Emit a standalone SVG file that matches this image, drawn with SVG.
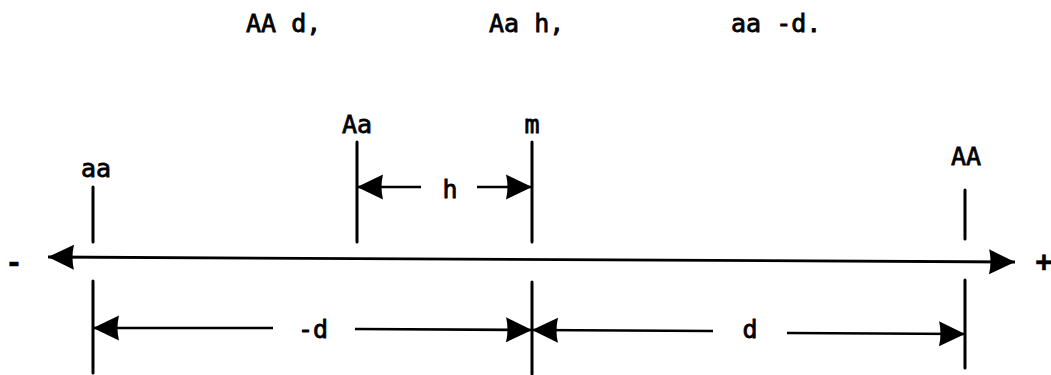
<svg xmlns="http://www.w3.org/2000/svg" width="1051" height="375" viewBox="0 0 1051 375">
<defs>
<style>
text{font-family:"DejaVu Sans Mono","Liberation Mono",monospace;font-size:25px;fill:#000;stroke:#000;stroke-width:0.8}
.m{text-anchor:middle}
.sign{font-weight:bold;font-size:28px;stroke-width:0.5}
.tick{stroke:#000;stroke-width:3;fill:none;stroke-linecap:round}
.dim{stroke:#000;stroke-width:2.6;fill:none;marker-end:url(#ah)}
.axis{stroke:#000;stroke-width:2.8;fill:none;marker-start:url(#ah);marker-end:url(#ah)}
</style>
<marker id="ah" markerUnits="userSpaceOnUse" markerWidth="28" markerHeight="26" refX="26" refY="13" orient="auto-start-reverse">
<path d="M0,0.5 L26,13 L0,25.5 Q3,13 0,0.5 z" fill="#000"/>
</marker>
</defs>
<rect width="1051" height="375" fill="#fff"/>
<g id="title">
<text x="246" y="32">AA d,</text>
<text x="489" y="32">Aa h,</text>
<text x="731" y="32">aa -d.</text>
</g>
<g id="minus"><text class="m sign" x="14" y="272">-</text></g>
<g id="plus"><text class="m sign" x="1044" y="271">+</text></g>
<g id="node-aa">
<text x="81" y="177">aa</text>
<line class="tick" x1="93" y1="187" x2="93" y2="242"/>
<line class="tick" x1="93" y1="281" x2="93" y2="373"/>
</g>
<g id="node-Aa">
<text x="342" y="133">Aa</text>
<line class="tick" x1="357" y1="142" x2="357" y2="242"/>
</g>
<g id="node-m">
<text class="m" x="532" y="133">m</text>
<line class="tick" x1="532" y1="142" x2="532" y2="242"/>
<line class="tick" x1="532" y1="282" x2="532" y2="374"/>
</g>
<g id="node-AA">
<text class="m" x="966" y="165">AA</text>
<line class="tick" x1="965" y1="190" x2="965" y2="239"/>
<line class="tick" x1="965" y1="280" x2="965" y2="368"/>
</g>
<g id="connectors">
<path class="axis" d="M48,257 L1015,262"/>
<line class="dim" x1="421" y1="187" x2="357" y2="187"/>
<line class="dim" x1="477" y1="187" x2="532" y2="187"/>
<text class="m" x="450" y="198">h</text>
<line class="dim" x1="273" y1="328" x2="93" y2="328"/>
<line class="dim" x1="355" y1="329" x2="532" y2="330"/>
<text class="m" x="313" y="338">-d</text>
<line class="dim" x1="713" y1="331" x2="532" y2="330"/>
<line class="dim" x1="787" y1="333" x2="965" y2="334"/>
<text class="m" x="750" y="338">d</text>
</g>
</svg>
